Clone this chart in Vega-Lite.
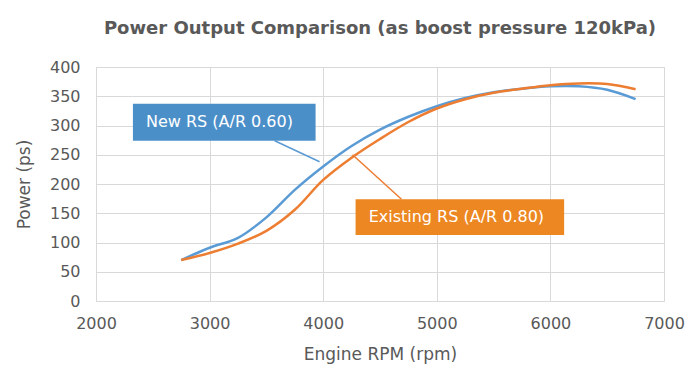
{
  "$schema": "https://vega.github.io/schema/vega-lite/v6.json",
  "width": 568,
  "height": 234,
  "autosize": {"type": "none"},
  "padding": {"left": 96, "top": 67, "right": 36, "bottom": 85},
  "background": "white",
  "title": {
    "text": "Power Output Comparison (as boost pressure 120kPa)",
    "font": "DejaVu Sans",
    "fontSize": 18,
    "fontWeight": "bold",
    "color": "#595959",
    "anchor": "middle",
    "offset": 21
  },
  "config": {
    "view": {"stroke": "#d9d9d9", "strokeWidth": 1},
    "axis": {
      "labelFont": "DejaVu Sans",
      "labelFontSize": 16,
      "labelColor": "#595959",
      "labelOverlap": false,
      "labelBound": false,
      "titleFont": "DejaVu Sans",
      "titleFontSize": 17,
      "titleFontWeight": "normal",
      "titleColor": "#595959",
      "gridColor": "#d9d9d9",
      "gridWidth": 1,
      "domain": false,
      "ticks": false
    }
  },
  "datasets": {
    "curves": [
      {"rpm": 2750, "ps": 70, "series": "New RS (A/R 0.60)"},
      {"rpm": 3000, "ps": 91, "series": "New RS (A/R 0.60)"},
      {"rpm": 3250, "ps": 108, "series": "New RS (A/R 0.60)"},
      {"rpm": 3500, "ps": 143, "series": "New RS (A/R 0.60)"},
      {"rpm": 3750, "ps": 190, "series": "New RS (A/R 0.60)"},
      {"rpm": 4000, "ps": 230, "series": "New RS (A/R 0.60)"},
      {"rpm": 4250, "ps": 265, "series": "New RS (A/R 0.60)"},
      {"rpm": 4500, "ps": 293, "series": "New RS (A/R 0.60)"},
      {"rpm": 4750, "ps": 315, "series": "New RS (A/R 0.60)"},
      {"rpm": 5000, "ps": 333, "series": "New RS (A/R 0.60)"},
      {"rpm": 5250, "ps": 347, "series": "New RS (A/R 0.60)"},
      {"rpm": 5500, "ps": 357, "series": "New RS (A/R 0.60)"},
      {"rpm": 5750, "ps": 363, "series": "New RS (A/R 0.60)"},
      {"rpm": 6000, "ps": 367, "series": "New RS (A/R 0.60)"},
      {"rpm": 6250, "ps": 367, "series": "New RS (A/R 0.60)"},
      {"rpm": 6500, "ps": 361, "series": "New RS (A/R 0.60)"},
      {"rpm": 6750, "ps": 345, "series": "New RS (A/R 0.60)"},
      {"rpm": 2750, "ps": 70, "series": "Existing RS (A/R 0.80)"},
      {"rpm": 3000, "ps": 82, "series": "Existing RS (A/R 0.80)"},
      {"rpm": 3250, "ps": 98, "series": "Existing RS (A/R 0.80)"},
      {"rpm": 3500, "ps": 120, "series": "Existing RS (A/R 0.80)"},
      {"rpm": 3750, "ps": 156, "series": "Existing RS (A/R 0.80)"},
      {"rpm": 4000, "ps": 207, "series": "Existing RS (A/R 0.80)"},
      {"rpm": 4250, "ps": 245, "series": "Existing RS (A/R 0.80)"},
      {"rpm": 4500, "ps": 277, "series": "Existing RS (A/R 0.80)"},
      {"rpm": 4750, "ps": 306, "series": "Existing RS (A/R 0.80)"},
      {"rpm": 5000, "ps": 329, "series": "Existing RS (A/R 0.80)"},
      {"rpm": 5250, "ps": 345, "series": "Existing RS (A/R 0.80)"},
      {"rpm": 5500, "ps": 356, "series": "Existing RS (A/R 0.80)"},
      {"rpm": 5750, "ps": 363, "series": "Existing RS (A/R 0.80)"},
      {"rpm": 6000, "ps": 369, "series": "Existing RS (A/R 0.80)"},
      {"rpm": 6250, "ps": 372, "series": "Existing RS (A/R 0.80)"},
      {"rpm": 6500, "ps": 371, "series": "Existing RS (A/R 0.80)"},
      {"rpm": 6750, "ps": 362, "series": "Existing RS (A/R 0.80)"}
    ],
    "callouts": [
      {"series": "New RS (A/R 0.60)", "boxLeft": 2325, "boxRight": 3933, "boxTop": 337, "boxBottom": 274, "textRpm": 2440, "textPs": 306, "leadFromRpm": 3573, "leadFromPs": 274, "leadToRpm": 3968, "leadToPs": 238},
      {"series": "Existing RS (A/R 0.80)", "boxLeft": 4285, "boxRight": 6121, "boxTop": 174, "boxBottom": 113, "textRpm": 4400, "textPs": 144, "leadFromRpm": 4689, "leadFromPs": 174, "leadToRpm": 4258, "leadToPs": 250}
    ]
  },
  "layer": [
    {
      "data": {"name": "curves"},
      "mark": {"type": "line", "interpolate": "catmull-rom", "strokeWidth": 2.5},
      "encoding": {
        "x": {
          "field": "rpm", "type": "quantitative",
          "scale": {"domain": [2000, 7000], "nice": false},
          "axis": {"values": [2000, 3000, 4000, 5000, 6000, 7000], "format": "d", "title": "Engine RPM (rpm)", "labelPadding": 14, "titlePadding": 15, "labelFlush": false}
        },
        "y": {
          "field": "ps", "type": "quantitative",
          "scale": {"domain": [0, 400], "nice": false},
          "axis": {"values": [0, 50, 100, 150, 200, 250, 300, 350, 400], "title": "Power (ps)", "labelPadding": 16, "titlePadding": 16}
        },
        "color": {
          "field": "series", "type": "nominal",
          "scale": {"domain": ["New RS (A/R 0.60)", "Existing RS (A/R 0.80)"], "range": ["#5b9bd5", "#ed7d31"]},
          "legend": null
        },
        "detail": {"field": "series"}
      }
    },
    {
      "data": {"name": "callouts"},
      "mark": {"type": "rule", "strokeWidth": 1.5},
      "encoding": {
        "x": {"field": "leadFromRpm", "type": "quantitative",
          "axis": {"values": [2000, 3000, 4000, 5000, 6000, 7000], "format": "d", "title": "Engine RPM (rpm)", "labelPadding": 14, "titlePadding": 15, "labelFlush": false}},
        "y": {"field": "leadFromPs", "type": "quantitative",
          "axis": {"values": [0, 50, 100, 150, 200, 250, 300, 350, 400], "title": "Power (ps)", "labelPadding": 16, "titlePadding": 16}},
        "x2": {"field": "leadToRpm"},
        "y2": {"field": "leadToPs"},
        "color": {"field": "series", "type": "nominal", "legend": null}
      }
    },
    {
      "data": {"name": "callouts"},
      "mark": {"type": "rect"},
      "encoding": {
        "x": {"field": "boxLeft", "type": "quantitative",
          "axis": {"values": [2000, 3000, 4000, 5000, 6000, 7000], "format": "d", "title": "Engine RPM (rpm)", "labelPadding": 14, "titlePadding": 15, "labelFlush": false}},
        "x2": {"field": "boxRight"},
        "y": {"field": "boxTop", "type": "quantitative",
          "axis": {"values": [0, 50, 100, 150, 200, 250, 300, 350, 400], "title": "Power (ps)", "labelPadding": 16, "titlePadding": 16}},
        "y2": {"field": "boxBottom"},
        "fill": {
          "field": "series", "type": "nominal",
          "scale": {"domain": ["New RS (A/R 0.60)", "Existing RS (A/R 0.80)"], "range": ["#4b8fc9", "#ec8722"]},
          "legend": null
        }
      }
    },
    {
      "data": {"name": "callouts"},
      "mark": {"type": "text", "align": "left", "baseline": "middle", "font": "DejaVu Sans", "fontSize": 16, "color": "white"},
      "encoding": {
        "x": {"field": "textRpm", "type": "quantitative",
          "axis": {"values": [2000, 3000, 4000, 5000, 6000, 7000], "format": "d", "title": "Engine RPM (rpm)", "labelPadding": 14, "titlePadding": 15, "labelFlush": false}},
        "y": {"field": "textPs", "type": "quantitative",
          "axis": {"values": [0, 50, 100, 150, 200, 250, 300, 350, 400], "title": "Power (ps)", "labelPadding": 16, "titlePadding": 16}},
        "text": {"field": "series"}
      }
    }
  ]
}
